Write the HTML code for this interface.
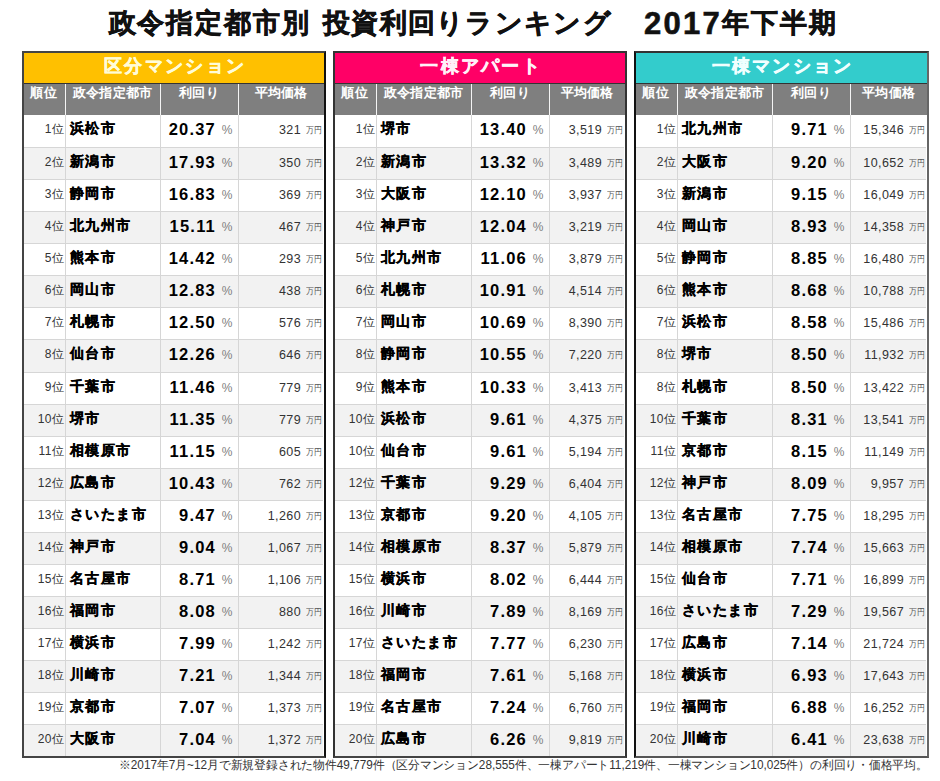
<!DOCTYPE html>
<html><head><meta charset="utf-8"><style>
*{margin:0;padding:0;box-sizing:border-box}
html,body{width:940px;height:781px;background:#fff;overflow:hidden}
body{position:relative;font-family:"Liberation Sans",sans-serif;color:#000}
.a{position:absolute}
.tt{position:absolute;top:6px;font-size:27px;letter-spacing:1.9px;font-weight:bold;line-height:34px;white-space:nowrap;color:#111;-webkit-text-stroke:0.6px #111}
.tb{position:absolute;border:2px solid #333;background:#fff}
.band{position:absolute;text-align:center;font-weight:bold;font-size:18px;letter-spacing:2.3px;padding-left:2.3px;line-height:26px;white-space:nowrap;-webkit-text-stroke:0.5px currentColor}
.hd{position:absolute;background:#7f7f7f}
.hc{position:absolute;top:0;height:31px;color:#fff;font-weight:bold;font-size:13.3px;letter-spacing:0.3px;line-height:14px;padding-top:0;padding-left:0.3px;text-align:center;white-space:nowrap}
.row{position:absolute}
.rk{position:absolute;text-align:right;font-size:12px;letter-spacing:0.5px;color:#333;white-space:nowrap}
.ct{position:absolute;font-weight:bold;font-size:13.6px;letter-spacing:1.4px;color:#000;white-space:nowrap;-webkit-text-stroke:0.35px #000}
.yl{position:absolute;text-align:right;font-weight:bold;font-size:16.5px;letter-spacing:1.2px;color:#000;white-space:nowrap}
.pc{position:absolute;text-align:right;font-size:12px;color:#7f7f7f;white-space:nowrap}
.pr{position:absolute;text-align:right;font-size:12.5px;letter-spacing:0.4px;color:#333;white-space:nowrap}
.mn{position:absolute;font-size:8.5px;color:#555;white-space:nowrap;transform:scaleX(0.88);transform-origin:0 0}
.hl{position:absolute;height:1px;background:#d6d6d6}
.vl{position:absolute;width:1px;background:#d6d6d6}
.vh{position:absolute;width:1px;background:#f4f4f4}
.fn{position:absolute;left:119px;top:758px;font-size:12px;line-height:14px;color:#333;white-space:nowrap;transform:scaleX(0.982);transform-origin:0 0}
</style></head><body>

<div class="tt" style="left:108.5px">政令指定都市別</div>
<div class="tt" style="left:323px;letter-spacing:1.3px">投資利回りランキング</div>
<div class="tt" style="left:644px;top:7px;font-size:31px;letter-spacing:2.3px">2017</div>
<div class="tt" style="left:722px">年下半期</div>
<div class="tb" style="left:22px;top:51px;width:304px;height:707px;border-color:#444 #111 #444 #444"></div>
<div class="band" style="left:24px;top:53px;width:300px;height:30px;background:#FFC000;color:#FFFCD8">区分マンション</div>
<div class="a" style="left:24px;top:83px;width:300px;height:1px;background:#333"></div>
<div class="hd" style="left:24px;top:84px;width:300px;height:31px"></div>
<div class="hc" style="left:23px;top:86px;width:41px">順位</div>
<div class="hc" style="left:65px;top:86px;width:95px">政令指定都市</div>
<div class="hc" style="left:160px;top:86px;width:78px">利回り</div>
<div class="hc" style="left:238px;top:86px;width:86px">平均価格</div>
<div class="vh" style="left:65px;top:84px;height:31px"></div>
<div class="vh" style="left:160px;top:84px;height:31px"></div>
<div class="vh" style="left:238px;top:84px;height:31px"></div>
<div class="a" style="left:24px;top:148px;width:299px;height:31px;background:#f2f2f2"></div>
<div class="a" style="left:24px;top:212px;width:299px;height:31px;background:#f2f2f2"></div>
<div class="a" style="left:24px;top:276px;width:299px;height:31px;background:#f2f2f2"></div>
<div class="a" style="left:24px;top:340px;width:299px;height:32px;background:#f2f2f2"></div>
<div class="a" style="left:24px;top:405px;width:299px;height:31px;background:#f2f2f2"></div>
<div class="a" style="left:24px;top:469px;width:299px;height:31px;background:#f2f2f2"></div>
<div class="a" style="left:24px;top:533px;width:299px;height:31px;background:#f2f2f2"></div>
<div class="a" style="left:24px;top:597px;width:299px;height:31px;background:#f2f2f2"></div>
<div class="a" style="left:24px;top:661px;width:299px;height:31px;background:#f2f2f2"></div>
<div class="a" style="left:24px;top:725px;width:299px;height:31px;background:#f2f2f2"></div>
<div class="hl" style="left:24px;top:147px;width:299px"></div>
<div class="hl" style="left:24px;top:179px;width:299px"></div>
<div class="hl" style="left:24px;top:211px;width:299px"></div>
<div class="hl" style="left:24px;top:243px;width:299px"></div>
<div class="hl" style="left:24px;top:275px;width:299px"></div>
<div class="hl" style="left:24px;top:307px;width:299px"></div>
<div class="hl" style="left:24px;top:339px;width:299px"></div>
<div class="hl" style="left:24px;top:372px;width:299px"></div>
<div class="hl" style="left:24px;top:404px;width:299px"></div>
<div class="hl" style="left:24px;top:436px;width:299px"></div>
<div class="hl" style="left:24px;top:468px;width:299px"></div>
<div class="hl" style="left:24px;top:500px;width:299px"></div>
<div class="hl" style="left:24px;top:532px;width:299px"></div>
<div class="hl" style="left:24px;top:564px;width:299px"></div>
<div class="hl" style="left:24px;top:596px;width:299px"></div>
<div class="hl" style="left:24px;top:628px;width:299px"></div>
<div class="hl" style="left:24px;top:660px;width:299px"></div>
<div class="hl" style="left:24px;top:692px;width:299px"></div>
<div class="hl" style="left:24px;top:724px;width:299px"></div>
<div class="vl" style="left:65px;top:115px;height:641px"></div>
<div class="vl" style="left:160px;top:115px;height:641px"></div>
<div class="vl" style="left:238px;top:115px;height:641px"></div>
<div class="rk" style="left:24px;width:40.5px;top:121px;line-height:16px">1位</div>
<div class="ct" style="left:70px;top:120px;line-height:18px">浜松市</div>
<div class="yl" style="left:160px;width:56px;top:119px;line-height:20px">20.37</div>
<div class="pc" style="left:160px;width:72.5px;top:123px;line-height:14px">%</div>
<div class="pr" style="left:238px;width:63px;top:123px;line-height:14px">321</div>
<div class="mn" style="left:306px;top:125px;line-height:10px">万円</div>
<div class="rk" style="left:24px;width:40.5px;top:154px;line-height:16px">2位</div>
<div class="ct" style="left:70px;top:153px;line-height:18px">新潟市</div>
<div class="yl" style="left:160px;width:56px;top:152px;line-height:20px">17.93</div>
<div class="pc" style="left:160px;width:72.5px;top:156px;line-height:14px">%</div>
<div class="pr" style="left:238px;width:63px;top:156px;line-height:14px">350</div>
<div class="mn" style="left:306px;top:158px;line-height:10px">万円</div>
<div class="rk" style="left:24px;width:40.5px;top:186px;line-height:16px">3位</div>
<div class="ct" style="left:70px;top:185px;line-height:18px">静岡市</div>
<div class="yl" style="left:160px;width:56px;top:184px;line-height:20px">16.83</div>
<div class="pc" style="left:160px;width:72.5px;top:188px;line-height:14px">%</div>
<div class="pr" style="left:238px;width:63px;top:188px;line-height:14px">369</div>
<div class="mn" style="left:306px;top:190px;line-height:10px">万円</div>
<div class="rk" style="left:24px;width:40.5px;top:218px;line-height:16px">4位</div>
<div class="ct" style="left:70px;top:217px;line-height:18px">北九州市</div>
<div class="yl" style="left:160px;width:56px;top:216px;line-height:20px">15.11</div>
<div class="pc" style="left:160px;width:72.5px;top:220px;line-height:14px">%</div>
<div class="pr" style="left:238px;width:63px;top:220px;line-height:14px">467</div>
<div class="mn" style="left:306px;top:222px;line-height:10px">万円</div>
<div class="rk" style="left:24px;width:40.5px;top:250px;line-height:16px">5位</div>
<div class="ct" style="left:70px;top:249px;line-height:18px">熊本市</div>
<div class="yl" style="left:160px;width:56px;top:248px;line-height:20px">14.42</div>
<div class="pc" style="left:160px;width:72.5px;top:252px;line-height:14px">%</div>
<div class="pr" style="left:238px;width:63px;top:252px;line-height:14px">293</div>
<div class="mn" style="left:306px;top:254px;line-height:10px">万円</div>
<div class="rk" style="left:24px;width:40.5px;top:282px;line-height:16px">6位</div>
<div class="ct" style="left:70px;top:281px;line-height:18px">岡山市</div>
<div class="yl" style="left:160px;width:56px;top:280px;line-height:20px">12.83</div>
<div class="pc" style="left:160px;width:72.5px;top:284px;line-height:14px">%</div>
<div class="pr" style="left:238px;width:63px;top:284px;line-height:14px">438</div>
<div class="mn" style="left:306px;top:286px;line-height:10px">万円</div>
<div class="rk" style="left:24px;width:40.5px;top:314px;line-height:16px">7位</div>
<div class="ct" style="left:70px;top:313px;line-height:18px">札幌市</div>
<div class="yl" style="left:160px;width:56px;top:312px;line-height:20px">12.50</div>
<div class="pc" style="left:160px;width:72.5px;top:316px;line-height:14px">%</div>
<div class="pr" style="left:238px;width:63px;top:316px;line-height:14px">576</div>
<div class="mn" style="left:306px;top:318px;line-height:10px">万円</div>
<div class="rk" style="left:24px;width:40.5px;top:346px;line-height:16px">8位</div>
<div class="ct" style="left:70px;top:345px;line-height:18px">仙台市</div>
<div class="yl" style="left:160px;width:56px;top:344px;line-height:20px">12.26</div>
<div class="pc" style="left:160px;width:72.5px;top:348px;line-height:14px">%</div>
<div class="pr" style="left:238px;width:63px;top:348px;line-height:14px">646</div>
<div class="mn" style="left:306px;top:350px;line-height:10px">万円</div>
<div class="rk" style="left:24px;width:40.5px;top:379px;line-height:16px">9位</div>
<div class="ct" style="left:70px;top:378px;line-height:18px">千葉市</div>
<div class="yl" style="left:160px;width:56px;top:377px;line-height:20px">11.46</div>
<div class="pc" style="left:160px;width:72.5px;top:381px;line-height:14px">%</div>
<div class="pr" style="left:238px;width:63px;top:381px;line-height:14px">779</div>
<div class="mn" style="left:306px;top:383px;line-height:10px">万円</div>
<div class="rk" style="left:24px;width:40.5px;top:411px;line-height:16px">10位</div>
<div class="ct" style="left:70px;top:410px;line-height:18px">堺市</div>
<div class="yl" style="left:160px;width:56px;top:409px;line-height:20px">11.35</div>
<div class="pc" style="left:160px;width:72.5px;top:413px;line-height:14px">%</div>
<div class="pr" style="left:238px;width:63px;top:413px;line-height:14px">779</div>
<div class="mn" style="left:306px;top:415px;line-height:10px">万円</div>
<div class="rk" style="left:24px;width:40.5px;top:443px;line-height:16px">11位</div>
<div class="ct" style="left:70px;top:442px;line-height:18px">相模原市</div>
<div class="yl" style="left:160px;width:56px;top:441px;line-height:20px">11.15</div>
<div class="pc" style="left:160px;width:72.5px;top:445px;line-height:14px">%</div>
<div class="pr" style="left:238px;width:63px;top:445px;line-height:14px">605</div>
<div class="mn" style="left:306px;top:447px;line-height:10px">万円</div>
<div class="rk" style="left:24px;width:40.5px;top:475px;line-height:16px">12位</div>
<div class="ct" style="left:70px;top:474px;line-height:18px">広島市</div>
<div class="yl" style="left:160px;width:56px;top:473px;line-height:20px">10.43</div>
<div class="pc" style="left:160px;width:72.5px;top:477px;line-height:14px">%</div>
<div class="pr" style="left:238px;width:63px;top:477px;line-height:14px">762</div>
<div class="mn" style="left:306px;top:479px;line-height:10px">万円</div>
<div class="rk" style="left:24px;width:40.5px;top:507px;line-height:16px">13位</div>
<div class="ct" style="left:70px;top:506px;line-height:18px">さいたま市</div>
<div class="yl" style="left:160px;width:56px;top:505px;line-height:20px">9.47</div>
<div class="pc" style="left:160px;width:72.5px;top:509px;line-height:14px">%</div>
<div class="pr" style="left:238px;width:63px;top:509px;line-height:14px">1,260</div>
<div class="mn" style="left:306px;top:511px;line-height:10px">万円</div>
<div class="rk" style="left:24px;width:40.5px;top:539px;line-height:16px">14位</div>
<div class="ct" style="left:70px;top:538px;line-height:18px">神戸市</div>
<div class="yl" style="left:160px;width:56px;top:537px;line-height:20px">9.04</div>
<div class="pc" style="left:160px;width:72.5px;top:541px;line-height:14px">%</div>
<div class="pr" style="left:238px;width:63px;top:541px;line-height:14px">1,067</div>
<div class="mn" style="left:306px;top:543px;line-height:10px">万円</div>
<div class="rk" style="left:24px;width:40.5px;top:571px;line-height:16px">15位</div>
<div class="ct" style="left:70px;top:570px;line-height:18px">名古屋市</div>
<div class="yl" style="left:160px;width:56px;top:569px;line-height:20px">8.71</div>
<div class="pc" style="left:160px;width:72.5px;top:573px;line-height:14px">%</div>
<div class="pr" style="left:238px;width:63px;top:573px;line-height:14px">1,106</div>
<div class="mn" style="left:306px;top:575px;line-height:10px">万円</div>
<div class="rk" style="left:24px;width:40.5px;top:603px;line-height:16px">16位</div>
<div class="ct" style="left:70px;top:602px;line-height:18px">福岡市</div>
<div class="yl" style="left:160px;width:56px;top:601px;line-height:20px">8.08</div>
<div class="pc" style="left:160px;width:72.5px;top:605px;line-height:14px">%</div>
<div class="pr" style="left:238px;width:63px;top:605px;line-height:14px">880</div>
<div class="mn" style="left:306px;top:607px;line-height:10px">万円</div>
<div class="rk" style="left:24px;width:40.5px;top:635px;line-height:16px">17位</div>
<div class="ct" style="left:70px;top:634px;line-height:18px">横浜市</div>
<div class="yl" style="left:160px;width:56px;top:633px;line-height:20px">7.99</div>
<div class="pc" style="left:160px;width:72.5px;top:637px;line-height:14px">%</div>
<div class="pr" style="left:238px;width:63px;top:637px;line-height:14px">1,242</div>
<div class="mn" style="left:306px;top:639px;line-height:10px">万円</div>
<div class="rk" style="left:24px;width:40.5px;top:667px;line-height:16px">18位</div>
<div class="ct" style="left:70px;top:666px;line-height:18px">川崎市</div>
<div class="yl" style="left:160px;width:56px;top:665px;line-height:20px">7.21</div>
<div class="pc" style="left:160px;width:72.5px;top:669px;line-height:14px">%</div>
<div class="pr" style="left:238px;width:63px;top:669px;line-height:14px">1,344</div>
<div class="mn" style="left:306px;top:671px;line-height:10px">万円</div>
<div class="rk" style="left:24px;width:40.5px;top:699px;line-height:16px">19位</div>
<div class="ct" style="left:70px;top:698px;line-height:18px">京都市</div>
<div class="yl" style="left:160px;width:56px;top:697px;line-height:20px">7.07</div>
<div class="pc" style="left:160px;width:72.5px;top:701px;line-height:14px">%</div>
<div class="pr" style="left:238px;width:63px;top:701px;line-height:14px">1,373</div>
<div class="mn" style="left:306px;top:703px;line-height:10px">万円</div>
<div class="rk" style="left:24px;width:40.5px;top:731px;line-height:16px">20位</div>
<div class="ct" style="left:70px;top:730px;line-height:18px">大阪市</div>
<div class="yl" style="left:160px;width:56px;top:729px;line-height:20px">7.04</div>
<div class="pc" style="left:160px;width:72.5px;top:733px;line-height:14px">%</div>
<div class="pr" style="left:238px;width:63px;top:733px;line-height:14px">1,372</div>
<div class="mn" style="left:306px;top:735px;line-height:10px">万円</div>
<div class="tb" style="left:333px;top:51px;width:294px;height:707px;border-color:#333 #333 #444 #333"></div>
<div class="band" style="left:335px;top:53px;width:290px;height:30px;background:#FF0066;color:#FFF0F8">一棟アパート</div>
<div class="a" style="left:335px;top:83px;width:290px;height:1px;background:#333"></div>
<div class="hd" style="left:335px;top:84px;width:290px;height:31px"></div>
<div class="hc" style="left:334px;top:86px;width:41px">順位</div>
<div class="hc" style="left:376px;top:86px;width:95px">政令指定都市</div>
<div class="hc" style="left:471px;top:86px;width:78px">利回り</div>
<div class="hc" style="left:549px;top:86px;width:76px">平均価格</div>
<div class="vh" style="left:376px;top:84px;height:31px"></div>
<div class="vh" style="left:471px;top:84px;height:31px"></div>
<div class="vh" style="left:549px;top:84px;height:31px"></div>
<div class="a" style="left:335px;top:148px;width:289px;height:31px;background:#f2f2f2"></div>
<div class="a" style="left:335px;top:212px;width:289px;height:31px;background:#f2f2f2"></div>
<div class="a" style="left:335px;top:276px;width:289px;height:31px;background:#f2f2f2"></div>
<div class="a" style="left:335px;top:340px;width:289px;height:32px;background:#f2f2f2"></div>
<div class="a" style="left:335px;top:405px;width:289px;height:31px;background:#f2f2f2"></div>
<div class="a" style="left:335px;top:469px;width:289px;height:31px;background:#f2f2f2"></div>
<div class="a" style="left:335px;top:533px;width:289px;height:31px;background:#f2f2f2"></div>
<div class="a" style="left:335px;top:597px;width:289px;height:31px;background:#f2f2f2"></div>
<div class="a" style="left:335px;top:661px;width:289px;height:31px;background:#f2f2f2"></div>
<div class="a" style="left:335px;top:725px;width:289px;height:31px;background:#f2f2f2"></div>
<div class="hl" style="left:335px;top:147px;width:289px"></div>
<div class="hl" style="left:335px;top:179px;width:289px"></div>
<div class="hl" style="left:335px;top:211px;width:289px"></div>
<div class="hl" style="left:335px;top:243px;width:289px"></div>
<div class="hl" style="left:335px;top:275px;width:289px"></div>
<div class="hl" style="left:335px;top:307px;width:289px"></div>
<div class="hl" style="left:335px;top:339px;width:289px"></div>
<div class="hl" style="left:335px;top:372px;width:289px"></div>
<div class="hl" style="left:335px;top:404px;width:289px"></div>
<div class="hl" style="left:335px;top:436px;width:289px"></div>
<div class="hl" style="left:335px;top:468px;width:289px"></div>
<div class="hl" style="left:335px;top:500px;width:289px"></div>
<div class="hl" style="left:335px;top:532px;width:289px"></div>
<div class="hl" style="left:335px;top:564px;width:289px"></div>
<div class="hl" style="left:335px;top:596px;width:289px"></div>
<div class="hl" style="left:335px;top:628px;width:289px"></div>
<div class="hl" style="left:335px;top:660px;width:289px"></div>
<div class="hl" style="left:335px;top:692px;width:289px"></div>
<div class="hl" style="left:335px;top:724px;width:289px"></div>
<div class="vl" style="left:376px;top:115px;height:641px"></div>
<div class="vl" style="left:471px;top:115px;height:641px"></div>
<div class="vl" style="left:549px;top:115px;height:641px"></div>
<div class="rk" style="left:335px;width:40.5px;top:121px;line-height:16px">1位</div>
<div class="ct" style="left:381px;top:120px;line-height:18px">堺市</div>
<div class="yl" style="left:471px;width:56px;top:119px;line-height:20px">13.40</div>
<div class="pc" style="left:471px;width:72.5px;top:123px;line-height:14px">%</div>
<div class="pr" style="left:549px;width:53px;top:123px;line-height:14px">3,519</div>
<div class="mn" style="left:607px;top:125px;line-height:10px">万円</div>
<div class="rk" style="left:335px;width:40.5px;top:154px;line-height:16px">2位</div>
<div class="ct" style="left:381px;top:153px;line-height:18px">新潟市</div>
<div class="yl" style="left:471px;width:56px;top:152px;line-height:20px">13.32</div>
<div class="pc" style="left:471px;width:72.5px;top:156px;line-height:14px">%</div>
<div class="pr" style="left:549px;width:53px;top:156px;line-height:14px">3,489</div>
<div class="mn" style="left:607px;top:158px;line-height:10px">万円</div>
<div class="rk" style="left:335px;width:40.5px;top:186px;line-height:16px">3位</div>
<div class="ct" style="left:381px;top:185px;line-height:18px">大阪市</div>
<div class="yl" style="left:471px;width:56px;top:184px;line-height:20px">12.10</div>
<div class="pc" style="left:471px;width:72.5px;top:188px;line-height:14px">%</div>
<div class="pr" style="left:549px;width:53px;top:188px;line-height:14px">3,937</div>
<div class="mn" style="left:607px;top:190px;line-height:10px">万円</div>
<div class="rk" style="left:335px;width:40.5px;top:218px;line-height:16px">4位</div>
<div class="ct" style="left:381px;top:217px;line-height:18px">神戸市</div>
<div class="yl" style="left:471px;width:56px;top:216px;line-height:20px">12.04</div>
<div class="pc" style="left:471px;width:72.5px;top:220px;line-height:14px">%</div>
<div class="pr" style="left:549px;width:53px;top:220px;line-height:14px">3,219</div>
<div class="mn" style="left:607px;top:222px;line-height:10px">万円</div>
<div class="rk" style="left:335px;width:40.5px;top:250px;line-height:16px">5位</div>
<div class="ct" style="left:381px;top:249px;line-height:18px">北九州市</div>
<div class="yl" style="left:471px;width:56px;top:248px;line-height:20px">11.06</div>
<div class="pc" style="left:471px;width:72.5px;top:252px;line-height:14px">%</div>
<div class="pr" style="left:549px;width:53px;top:252px;line-height:14px">3,879</div>
<div class="mn" style="left:607px;top:254px;line-height:10px">万円</div>
<div class="rk" style="left:335px;width:40.5px;top:282px;line-height:16px">6位</div>
<div class="ct" style="left:381px;top:281px;line-height:18px">札幌市</div>
<div class="yl" style="left:471px;width:56px;top:280px;line-height:20px">10.91</div>
<div class="pc" style="left:471px;width:72.5px;top:284px;line-height:14px">%</div>
<div class="pr" style="left:549px;width:53px;top:284px;line-height:14px">4,514</div>
<div class="mn" style="left:607px;top:286px;line-height:10px">万円</div>
<div class="rk" style="left:335px;width:40.5px;top:314px;line-height:16px">7位</div>
<div class="ct" style="left:381px;top:313px;line-height:18px">岡山市</div>
<div class="yl" style="left:471px;width:56px;top:312px;line-height:20px">10.69</div>
<div class="pc" style="left:471px;width:72.5px;top:316px;line-height:14px">%</div>
<div class="pr" style="left:549px;width:53px;top:316px;line-height:14px">8,390</div>
<div class="mn" style="left:607px;top:318px;line-height:10px">万円</div>
<div class="rk" style="left:335px;width:40.5px;top:346px;line-height:16px">8位</div>
<div class="ct" style="left:381px;top:345px;line-height:18px">静岡市</div>
<div class="yl" style="left:471px;width:56px;top:344px;line-height:20px">10.55</div>
<div class="pc" style="left:471px;width:72.5px;top:348px;line-height:14px">%</div>
<div class="pr" style="left:549px;width:53px;top:348px;line-height:14px">7,220</div>
<div class="mn" style="left:607px;top:350px;line-height:10px">万円</div>
<div class="rk" style="left:335px;width:40.5px;top:379px;line-height:16px">9位</div>
<div class="ct" style="left:381px;top:378px;line-height:18px">熊本市</div>
<div class="yl" style="left:471px;width:56px;top:377px;line-height:20px">10.33</div>
<div class="pc" style="left:471px;width:72.5px;top:381px;line-height:14px">%</div>
<div class="pr" style="left:549px;width:53px;top:381px;line-height:14px">3,413</div>
<div class="mn" style="left:607px;top:383px;line-height:10px">万円</div>
<div class="rk" style="left:335px;width:40.5px;top:411px;line-height:16px">10位</div>
<div class="ct" style="left:381px;top:410px;line-height:18px">浜松市</div>
<div class="yl" style="left:471px;width:56px;top:409px;line-height:20px">9.61</div>
<div class="pc" style="left:471px;width:72.5px;top:413px;line-height:14px">%</div>
<div class="pr" style="left:549px;width:53px;top:413px;line-height:14px">4,375</div>
<div class="mn" style="left:607px;top:415px;line-height:10px">万円</div>
<div class="rk" style="left:335px;width:40.5px;top:443px;line-height:16px">10位</div>
<div class="ct" style="left:381px;top:442px;line-height:18px">仙台市</div>
<div class="yl" style="left:471px;width:56px;top:441px;line-height:20px">9.61</div>
<div class="pc" style="left:471px;width:72.5px;top:445px;line-height:14px">%</div>
<div class="pr" style="left:549px;width:53px;top:445px;line-height:14px">5,194</div>
<div class="mn" style="left:607px;top:447px;line-height:10px">万円</div>
<div class="rk" style="left:335px;width:40.5px;top:475px;line-height:16px">12位</div>
<div class="ct" style="left:381px;top:474px;line-height:18px">千葉市</div>
<div class="yl" style="left:471px;width:56px;top:473px;line-height:20px">9.29</div>
<div class="pc" style="left:471px;width:72.5px;top:477px;line-height:14px">%</div>
<div class="pr" style="left:549px;width:53px;top:477px;line-height:14px">6,404</div>
<div class="mn" style="left:607px;top:479px;line-height:10px">万円</div>
<div class="rk" style="left:335px;width:40.5px;top:507px;line-height:16px">13位</div>
<div class="ct" style="left:381px;top:506px;line-height:18px">京都市</div>
<div class="yl" style="left:471px;width:56px;top:505px;line-height:20px">9.20</div>
<div class="pc" style="left:471px;width:72.5px;top:509px;line-height:14px">%</div>
<div class="pr" style="left:549px;width:53px;top:509px;line-height:14px">4,105</div>
<div class="mn" style="left:607px;top:511px;line-height:10px">万円</div>
<div class="rk" style="left:335px;width:40.5px;top:539px;line-height:16px">14位</div>
<div class="ct" style="left:381px;top:538px;line-height:18px">相模原市</div>
<div class="yl" style="left:471px;width:56px;top:537px;line-height:20px">8.37</div>
<div class="pc" style="left:471px;width:72.5px;top:541px;line-height:14px">%</div>
<div class="pr" style="left:549px;width:53px;top:541px;line-height:14px">5,879</div>
<div class="mn" style="left:607px;top:543px;line-height:10px">万円</div>
<div class="rk" style="left:335px;width:40.5px;top:571px;line-height:16px">15位</div>
<div class="ct" style="left:381px;top:570px;line-height:18px">横浜市</div>
<div class="yl" style="left:471px;width:56px;top:569px;line-height:20px">8.02</div>
<div class="pc" style="left:471px;width:72.5px;top:573px;line-height:14px">%</div>
<div class="pr" style="left:549px;width:53px;top:573px;line-height:14px">6,444</div>
<div class="mn" style="left:607px;top:575px;line-height:10px">万円</div>
<div class="rk" style="left:335px;width:40.5px;top:603px;line-height:16px">16位</div>
<div class="ct" style="left:381px;top:602px;line-height:18px">川崎市</div>
<div class="yl" style="left:471px;width:56px;top:601px;line-height:20px">7.89</div>
<div class="pc" style="left:471px;width:72.5px;top:605px;line-height:14px">%</div>
<div class="pr" style="left:549px;width:53px;top:605px;line-height:14px">8,169</div>
<div class="mn" style="left:607px;top:607px;line-height:10px">万円</div>
<div class="rk" style="left:335px;width:40.5px;top:635px;line-height:16px">17位</div>
<div class="ct" style="left:381px;top:634px;line-height:18px">さいたま市</div>
<div class="yl" style="left:471px;width:56px;top:633px;line-height:20px">7.77</div>
<div class="pc" style="left:471px;width:72.5px;top:637px;line-height:14px">%</div>
<div class="pr" style="left:549px;width:53px;top:637px;line-height:14px">6,230</div>
<div class="mn" style="left:607px;top:639px;line-height:10px">万円</div>
<div class="rk" style="left:335px;width:40.5px;top:667px;line-height:16px">18位</div>
<div class="ct" style="left:381px;top:666px;line-height:18px">福岡市</div>
<div class="yl" style="left:471px;width:56px;top:665px;line-height:20px">7.61</div>
<div class="pc" style="left:471px;width:72.5px;top:669px;line-height:14px">%</div>
<div class="pr" style="left:549px;width:53px;top:669px;line-height:14px">5,168</div>
<div class="mn" style="left:607px;top:671px;line-height:10px">万円</div>
<div class="rk" style="left:335px;width:40.5px;top:699px;line-height:16px">19位</div>
<div class="ct" style="left:381px;top:698px;line-height:18px">名古屋市</div>
<div class="yl" style="left:471px;width:56px;top:697px;line-height:20px">7.24</div>
<div class="pc" style="left:471px;width:72.5px;top:701px;line-height:14px">%</div>
<div class="pr" style="left:549px;width:53px;top:701px;line-height:14px">6,760</div>
<div class="mn" style="left:607px;top:703px;line-height:10px">万円</div>
<div class="rk" style="left:335px;width:40.5px;top:731px;line-height:16px">20位</div>
<div class="ct" style="left:381px;top:730px;line-height:18px">広島市</div>
<div class="yl" style="left:471px;width:56px;top:729px;line-height:20px">6.26</div>
<div class="pc" style="left:471px;width:72.5px;top:733px;line-height:14px">%</div>
<div class="pr" style="left:549px;width:53px;top:733px;line-height:14px">9,819</div>
<div class="mn" style="left:607px;top:735px;line-height:10px">万円</div>
<div class="tb" style="left:634px;top:51px;width:295px;height:707px;border-color:#333 #666 #555 #111"></div>
<div class="band" style="left:636px;top:53px;width:291px;height:30px;background:#33CCCC;color:#F0FFFF">一棟マンション</div>
<div class="a" style="left:636px;top:83px;width:291px;height:1px;background:#333"></div>
<div class="hd" style="left:636px;top:84px;width:291px;height:31px"></div>
<div class="hc" style="left:635px;top:86px;width:41px">順位</div>
<div class="hc" style="left:677px;top:86px;width:95px">政令指定都市</div>
<div class="hc" style="left:772px;top:86px;width:78px">利回り</div>
<div class="hc" style="left:850px;top:86px;width:77px">平均価格</div>
<div class="vh" style="left:677px;top:84px;height:31px"></div>
<div class="vh" style="left:772px;top:84px;height:31px"></div>
<div class="vh" style="left:850px;top:84px;height:31px"></div>
<div class="a" style="left:636px;top:148px;width:290px;height:31px;background:#f2f2f2"></div>
<div class="a" style="left:636px;top:212px;width:290px;height:31px;background:#f2f2f2"></div>
<div class="a" style="left:636px;top:276px;width:290px;height:31px;background:#f2f2f2"></div>
<div class="a" style="left:636px;top:340px;width:290px;height:32px;background:#f2f2f2"></div>
<div class="a" style="left:636px;top:405px;width:290px;height:31px;background:#f2f2f2"></div>
<div class="a" style="left:636px;top:469px;width:290px;height:31px;background:#f2f2f2"></div>
<div class="a" style="left:636px;top:533px;width:290px;height:31px;background:#f2f2f2"></div>
<div class="a" style="left:636px;top:597px;width:290px;height:31px;background:#f2f2f2"></div>
<div class="a" style="left:636px;top:661px;width:290px;height:31px;background:#f2f2f2"></div>
<div class="a" style="left:636px;top:725px;width:290px;height:31px;background:#f2f2f2"></div>
<div class="hl" style="left:636px;top:147px;width:290px"></div>
<div class="hl" style="left:636px;top:179px;width:290px"></div>
<div class="hl" style="left:636px;top:211px;width:290px"></div>
<div class="hl" style="left:636px;top:243px;width:290px"></div>
<div class="hl" style="left:636px;top:275px;width:290px"></div>
<div class="hl" style="left:636px;top:307px;width:290px"></div>
<div class="hl" style="left:636px;top:339px;width:290px"></div>
<div class="hl" style="left:636px;top:372px;width:290px"></div>
<div class="hl" style="left:636px;top:404px;width:290px"></div>
<div class="hl" style="left:636px;top:436px;width:290px"></div>
<div class="hl" style="left:636px;top:468px;width:290px"></div>
<div class="hl" style="left:636px;top:500px;width:290px"></div>
<div class="hl" style="left:636px;top:532px;width:290px"></div>
<div class="hl" style="left:636px;top:564px;width:290px"></div>
<div class="hl" style="left:636px;top:596px;width:290px"></div>
<div class="hl" style="left:636px;top:628px;width:290px"></div>
<div class="hl" style="left:636px;top:660px;width:290px"></div>
<div class="hl" style="left:636px;top:692px;width:290px"></div>
<div class="hl" style="left:636px;top:724px;width:290px"></div>
<div class="vl" style="left:677px;top:115px;height:641px"></div>
<div class="vl" style="left:772px;top:115px;height:641px"></div>
<div class="vl" style="left:850px;top:115px;height:641px"></div>
<div class="rk" style="left:636px;width:40.5px;top:121px;line-height:16px">1位</div>
<div class="ct" style="left:682px;top:120px;line-height:18px">北九州市</div>
<div class="yl" style="left:772px;width:56px;top:119px;line-height:20px">9.71</div>
<div class="pc" style="left:772px;width:72.5px;top:123px;line-height:14px">%</div>
<div class="pr" style="left:850px;width:54px;top:123px;line-height:14px">15,346</div>
<div class="mn" style="left:909px;top:125px;line-height:10px">万円</div>
<div class="rk" style="left:636px;width:40.5px;top:154px;line-height:16px">2位</div>
<div class="ct" style="left:682px;top:153px;line-height:18px">大阪市</div>
<div class="yl" style="left:772px;width:56px;top:152px;line-height:20px">9.20</div>
<div class="pc" style="left:772px;width:72.5px;top:156px;line-height:14px">%</div>
<div class="pr" style="left:850px;width:54px;top:156px;line-height:14px">10,652</div>
<div class="mn" style="left:909px;top:158px;line-height:10px">万円</div>
<div class="rk" style="left:636px;width:40.5px;top:186px;line-height:16px">3位</div>
<div class="ct" style="left:682px;top:185px;line-height:18px">新潟市</div>
<div class="yl" style="left:772px;width:56px;top:184px;line-height:20px">9.15</div>
<div class="pc" style="left:772px;width:72.5px;top:188px;line-height:14px">%</div>
<div class="pr" style="left:850px;width:54px;top:188px;line-height:14px">16,049</div>
<div class="mn" style="left:909px;top:190px;line-height:10px">万円</div>
<div class="rk" style="left:636px;width:40.5px;top:218px;line-height:16px">4位</div>
<div class="ct" style="left:682px;top:217px;line-height:18px">岡山市</div>
<div class="yl" style="left:772px;width:56px;top:216px;line-height:20px">8.93</div>
<div class="pc" style="left:772px;width:72.5px;top:220px;line-height:14px">%</div>
<div class="pr" style="left:850px;width:54px;top:220px;line-height:14px">14,358</div>
<div class="mn" style="left:909px;top:222px;line-height:10px">万円</div>
<div class="rk" style="left:636px;width:40.5px;top:250px;line-height:16px">5位</div>
<div class="ct" style="left:682px;top:249px;line-height:18px">静岡市</div>
<div class="yl" style="left:772px;width:56px;top:248px;line-height:20px">8.85</div>
<div class="pc" style="left:772px;width:72.5px;top:252px;line-height:14px">%</div>
<div class="pr" style="left:850px;width:54px;top:252px;line-height:14px">16,480</div>
<div class="mn" style="left:909px;top:254px;line-height:10px">万円</div>
<div class="rk" style="left:636px;width:40.5px;top:282px;line-height:16px">6位</div>
<div class="ct" style="left:682px;top:281px;line-height:18px">熊本市</div>
<div class="yl" style="left:772px;width:56px;top:280px;line-height:20px">8.68</div>
<div class="pc" style="left:772px;width:72.5px;top:284px;line-height:14px">%</div>
<div class="pr" style="left:850px;width:54px;top:284px;line-height:14px">10,788</div>
<div class="mn" style="left:909px;top:286px;line-height:10px">万円</div>
<div class="rk" style="left:636px;width:40.5px;top:314px;line-height:16px">7位</div>
<div class="ct" style="left:682px;top:313px;line-height:18px">浜松市</div>
<div class="yl" style="left:772px;width:56px;top:312px;line-height:20px">8.58</div>
<div class="pc" style="left:772px;width:72.5px;top:316px;line-height:14px">%</div>
<div class="pr" style="left:850px;width:54px;top:316px;line-height:14px">15,486</div>
<div class="mn" style="left:909px;top:318px;line-height:10px">万円</div>
<div class="rk" style="left:636px;width:40.5px;top:346px;line-height:16px">8位</div>
<div class="ct" style="left:682px;top:345px;line-height:18px">堺市</div>
<div class="yl" style="left:772px;width:56px;top:344px;line-height:20px">8.50</div>
<div class="pc" style="left:772px;width:72.5px;top:348px;line-height:14px">%</div>
<div class="pr" style="left:850px;width:54px;top:348px;line-height:14px">11,932</div>
<div class="mn" style="left:909px;top:350px;line-height:10px">万円</div>
<div class="rk" style="left:636px;width:40.5px;top:379px;line-height:16px">8位</div>
<div class="ct" style="left:682px;top:378px;line-height:18px">札幌市</div>
<div class="yl" style="left:772px;width:56px;top:377px;line-height:20px">8.50</div>
<div class="pc" style="left:772px;width:72.5px;top:381px;line-height:14px">%</div>
<div class="pr" style="left:850px;width:54px;top:381px;line-height:14px">13,422</div>
<div class="mn" style="left:909px;top:383px;line-height:10px">万円</div>
<div class="rk" style="left:636px;width:40.5px;top:411px;line-height:16px">10位</div>
<div class="ct" style="left:682px;top:410px;line-height:18px">千葉市</div>
<div class="yl" style="left:772px;width:56px;top:409px;line-height:20px">8.31</div>
<div class="pc" style="left:772px;width:72.5px;top:413px;line-height:14px">%</div>
<div class="pr" style="left:850px;width:54px;top:413px;line-height:14px">13,541</div>
<div class="mn" style="left:909px;top:415px;line-height:10px">万円</div>
<div class="rk" style="left:636px;width:40.5px;top:443px;line-height:16px">11位</div>
<div class="ct" style="left:682px;top:442px;line-height:18px">京都市</div>
<div class="yl" style="left:772px;width:56px;top:441px;line-height:20px">8.15</div>
<div class="pc" style="left:772px;width:72.5px;top:445px;line-height:14px">%</div>
<div class="pr" style="left:850px;width:54px;top:445px;line-height:14px">11,149</div>
<div class="mn" style="left:909px;top:447px;line-height:10px">万円</div>
<div class="rk" style="left:636px;width:40.5px;top:475px;line-height:16px">12位</div>
<div class="ct" style="left:682px;top:474px;line-height:18px">神戸市</div>
<div class="yl" style="left:772px;width:56px;top:473px;line-height:20px">8.09</div>
<div class="pc" style="left:772px;width:72.5px;top:477px;line-height:14px">%</div>
<div class="pr" style="left:850px;width:54px;top:477px;line-height:14px">9,957</div>
<div class="mn" style="left:909px;top:479px;line-height:10px">万円</div>
<div class="rk" style="left:636px;width:40.5px;top:507px;line-height:16px">13位</div>
<div class="ct" style="left:682px;top:506px;line-height:18px">名古屋市</div>
<div class="yl" style="left:772px;width:56px;top:505px;line-height:20px">7.75</div>
<div class="pc" style="left:772px;width:72.5px;top:509px;line-height:14px">%</div>
<div class="pr" style="left:850px;width:54px;top:509px;line-height:14px">18,295</div>
<div class="mn" style="left:909px;top:511px;line-height:10px">万円</div>
<div class="rk" style="left:636px;width:40.5px;top:539px;line-height:16px">14位</div>
<div class="ct" style="left:682px;top:538px;line-height:18px">相模原市</div>
<div class="yl" style="left:772px;width:56px;top:537px;line-height:20px">7.74</div>
<div class="pc" style="left:772px;width:72.5px;top:541px;line-height:14px">%</div>
<div class="pr" style="left:850px;width:54px;top:541px;line-height:14px">15,663</div>
<div class="mn" style="left:909px;top:543px;line-height:10px">万円</div>
<div class="rk" style="left:636px;width:40.5px;top:571px;line-height:16px">15位</div>
<div class="ct" style="left:682px;top:570px;line-height:18px">仙台市</div>
<div class="yl" style="left:772px;width:56px;top:569px;line-height:20px">7.71</div>
<div class="pc" style="left:772px;width:72.5px;top:573px;line-height:14px">%</div>
<div class="pr" style="left:850px;width:54px;top:573px;line-height:14px">16,899</div>
<div class="mn" style="left:909px;top:575px;line-height:10px">万円</div>
<div class="rk" style="left:636px;width:40.5px;top:603px;line-height:16px">16位</div>
<div class="ct" style="left:682px;top:602px;line-height:18px">さいたま市</div>
<div class="yl" style="left:772px;width:56px;top:601px;line-height:20px">7.29</div>
<div class="pc" style="left:772px;width:72.5px;top:605px;line-height:14px">%</div>
<div class="pr" style="left:850px;width:54px;top:605px;line-height:14px">19,567</div>
<div class="mn" style="left:909px;top:607px;line-height:10px">万円</div>
<div class="rk" style="left:636px;width:40.5px;top:635px;line-height:16px">17位</div>
<div class="ct" style="left:682px;top:634px;line-height:18px">広島市</div>
<div class="yl" style="left:772px;width:56px;top:633px;line-height:20px">7.14</div>
<div class="pc" style="left:772px;width:72.5px;top:637px;line-height:14px">%</div>
<div class="pr" style="left:850px;width:54px;top:637px;line-height:14px">21,724</div>
<div class="mn" style="left:909px;top:639px;line-height:10px">万円</div>
<div class="rk" style="left:636px;width:40.5px;top:667px;line-height:16px">18位</div>
<div class="ct" style="left:682px;top:666px;line-height:18px">横浜市</div>
<div class="yl" style="left:772px;width:56px;top:665px;line-height:20px">6.93</div>
<div class="pc" style="left:772px;width:72.5px;top:669px;line-height:14px">%</div>
<div class="pr" style="left:850px;width:54px;top:669px;line-height:14px">17,643</div>
<div class="mn" style="left:909px;top:671px;line-height:10px">万円</div>
<div class="rk" style="left:636px;width:40.5px;top:699px;line-height:16px">19位</div>
<div class="ct" style="left:682px;top:698px;line-height:18px">福岡市</div>
<div class="yl" style="left:772px;width:56px;top:697px;line-height:20px">6.88</div>
<div class="pc" style="left:772px;width:72.5px;top:701px;line-height:14px">%</div>
<div class="pr" style="left:850px;width:54px;top:701px;line-height:14px">16,252</div>
<div class="mn" style="left:909px;top:703px;line-height:10px">万円</div>
<div class="rk" style="left:636px;width:40.5px;top:731px;line-height:16px">20位</div>
<div class="ct" style="left:682px;top:730px;line-height:18px">川崎市</div>
<div class="yl" style="left:772px;width:56px;top:729px;line-height:20px">6.41</div>
<div class="pc" style="left:772px;width:72.5px;top:733px;line-height:14px">%</div>
<div class="pr" style="left:850px;width:54px;top:733px;line-height:14px">23,638</div>
<div class="mn" style="left:909px;top:735px;line-height:10px">万円</div>
<div class="fn">※2017年7月~12月で新規登録された物件49,779件（区分マンション28,555件、一棟アパート11,219件、一棟マンション10,025件）の利回り・価格平均。</div>
</body></html>
